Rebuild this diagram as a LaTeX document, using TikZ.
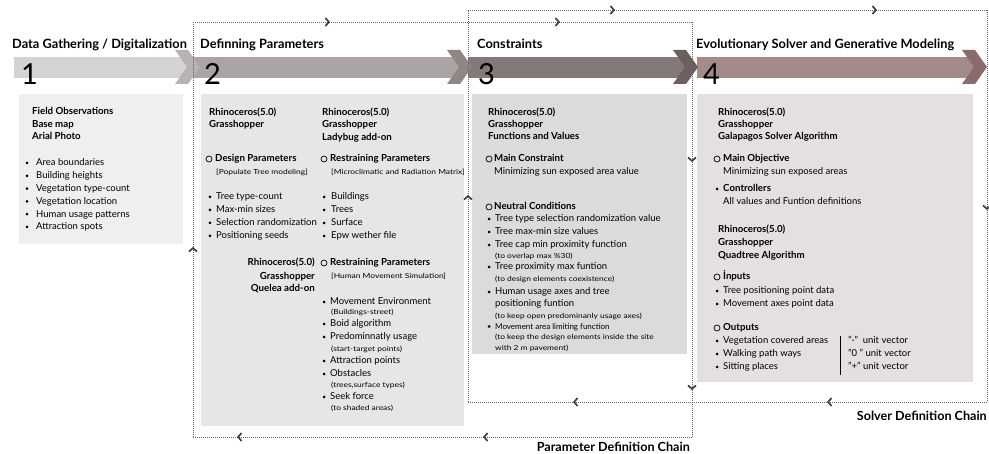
\documentclass[tikz,border=0pt]{standalone}
\usepackage{fontspec}
\setmainfont{Lato}
\newfontfamily\widefont{Lato}[FakeStretch=1.2]
\usetikzlibrary{arrows.meta,decorations.markings}

\definecolor{bandone}{HTML}{D4D2D2}
\definecolor{bandtwo}{HTML}{AAA4A4}
\definecolor{bandthree}{HTML}{857879}
\definecolor{bandfour}{HTML}{A58A8A}
\definecolor{chevone}{HTML}{B8B3B3}
\definecolor{chevtwo}{HTML}{908686}
\definecolor{chevthree}{HTML}{6D5F60}
\definecolor{chevfour}{HTML}{8B6A6B}
\definecolor{boxone}{HTML}{EFEFEF}
\definecolor{boxtwo}{HTML}{E6E6E6}
\definecolor{boxthree}{HTML}{DCDBDB}
\definecolor{boxfour}{HTML}{E5DFDF}

\newcommand\flowtip{\arrow{Straight Barb[length=3.4pt,width=8pt,line width=1.7pt,color=black!75]}}

\begin{document}
\begin{tikzpicture}[x=1pt,y=-1pt,
    txt/.style={anchor=base west,inner sep=0pt,font=\fontsize{9.5}{11}\selectfont},
    hd/.style={txt,font=\fontsize{9.7}{11}\selectfont\bfseries},
    sm/.style={txt,font=\widefont\fontsize{7}{8}\selectfont},
    ttl/.style={anchor=base west,inner sep=0pt,font=\fontsize{12.8}{14}\selectfont\bfseries},
    num/.style={anchor=base west,inner sep=0pt,font=\fontsize{29}{30}\selectfont},
    dot/.style={circle,fill=black,inner sep=0pt,minimum size=3pt},
    ring/.style={circle,draw=black,line width=0.7pt,inner sep=0pt,minimum size=6pt},
    panel/.style={anchor=north west,inner sep=0pt},
    chain/.style={black!60,line width=0.7pt,dash pattern=on 0.7pt off 1.3pt,
      postaction={decorate},decoration={markings,#1}}]
\useasboundingbox (0,0) rectangle (989,454);

\node[panel,fill=boxone,minimum width=164pt,minimum height=150pt] (gather) at (19,94) {};
\node[panel,fill=boxtwo,minimum width=263pt,minimum height=332pt] (params) at (201,94) {};
\node[panel,fill=boxthree,minimum width=215pt,minimum height=260pt] (constr) at (472,94) {};
\node[panel,fill=boxfour,minimum width=276pt,minimum height=288pt] (solver) at (697,94) {};

\fill[bandone] (14,57) rectangle (187,78);
\fill[bandtwo] (193,57) rectangle (459,78);
\fill[bandthree] (468,57) rectangle (685,78);
\fill[bandfour] (697,57) rectangle (974,78);
\foreach \cx/\cc in {175/chevone,447/chevtwo,673/chevthree,962/chevfour}
  \fill[\cc] (\cx,50) -- ++(13,0) -- ++(12,17) -- ++(-12,17) -- ++(-13,0) -- ++(12,-17) -- cycle;

\node[ttl] (t1) at (12,49) {Data Gathering / Digitalization};
\node[ttl] (t2) at (200,49) {Definning Parameters};
\node[ttl] (t3) at (477,49) {Constraints};
\node[ttl] (t4) at (696,49) {Evolutionary Solver and Generative Modeling};
\node[num] (n1) at (21,85) {1};
\node[num] (n2) at (204,85) {2};
\node[num] (n3) at (478,85) {3};
\node[num] (n4) at (703,85) {4};

% parameter definition chain
\coordinate (pa) at (193,22); \coordinate (pb) at (692,22);
\coordinate (pc) at (692,437); \coordinate (pd) at (193,437);
\draw[chain={mark=at position 137pt with {\flowtip},mark=at position 367pt with {\flowtip}}] (pa) -- (pb);
\draw[chain={mark=at position 140pt with {\flowtip},mark=at position 368pt with {\flowtip}}] (pb) -- (pc);
\draw[chain={mark=at position 209pt with {\flowtip},mark=at position 455pt with {\flowtip}}] (pc) -- (pd);
\draw[chain={mark=at position 190pt with {\flowtip}}] (pd) -- (pa);
% solver definition chain
\coordinate (sa) at (468,10); \coordinate (sb) at (987,10);
\coordinate (sc) at (987,402); \coordinate (sd) at (468,402);
\draw[chain={mark=at position 147pt with {\flowtip},mark=at position 409pt with {\flowtip}}] (sa) -- (sb);
\draw[chain={mark=at position 200pt with {\flowtip}}] (sb) -- (sc);
\draw[chain={mark=at position 160pt with {\flowtip},mark=at position 414pt with {\flowtip}}] (sc) -- (sd);
\draw[chain={mark=at position 207pt with {\flowtip}}] (sd) -- (sa);

\node[txt,anchor=base east,font=\fontsize{12.6}{14}\selectfont\bfseries] (pchain) at (690,452) {Parameter Definition Chain};
\node[txt,anchor=base east,font=\fontsize{12.6}{14}\selectfont\bfseries] (schain) at (987,421) {Solver Definition Chain};

% 1
\foreach \y/\t [count=\i] in {115/Field Observations,128/Base map,140/Arial Photo}
  \node[hd] (src-\i) at (32,\y) {\t};
\foreach \t [count=\i] in {Area boundaries,Building heights,Vegetation type-count,Vegetation location,Human usage patterns,Attraction spots}{
  \node[dot] (gd-\i) at (27,150.2+12.8*\i) {};
  \node[txt] (gt-\i) at (36,153.2+12.8*\i) {\t};}

% 2
\foreach \y/\t [count=\i] in {116/Rhinoceros(5.0),128/Grasshopper}
  \node[hd] (da-\i) at (209,\y) {\t};
\foreach \y/\t [count=\i] in {116/Rhinoceros(5.0),128/Grasshopper,141/Ladybug add-on}
  \node[hd] (db-\i) at (322,\y) {\t};
\node[ring] (dr-1) at (209,159) {};
\node[hd] (dp) at (215,162) {Design Parameters};
\node[sm] (dq) at (216,174.5) {[Populate Tree modeling]};
\node[ring] (dr-2) at (324,159) {};
\node[hd] (rp) at (330,162) {Restraining Parameters};
\node[sm] (rq) at (331,174.5) {[Microclimatic and Radiation Matrix]};
\foreach \y/\t/\u [count=\i] in {200/Tree type-count/Buildings,213/Max-min sizes/Trees,226/Selection randomization/Surface,239/Positioning seeds/Epw wether file}{
  \node[dot] (dl-\i) at (210,\y-3) {};
  \node[txt] (dlt-\i) at (216,\y) {\t};
  \node[dot] (dm-\i) at (324,\y-3) {};
  \node[txt] (dmt-\i) at (331,\y) {\u};}
\foreach \y/\t [count=\i] in {266/Rhinoceros(5.0),280/Grasshopper,292/Quelea add-on}
  \node[hd,anchor=base east] (qa-\i) at (315,\y) {\t};
\node[ring] (dr-3) at (324,263) {};
\node[hd] (hp) at (330,266) {Restraining Parameters};
\node[sm] (hq) at (331,278.5) {[Human Movement Simulation]};
\foreach \y/\t [count=\i] in {305/Movement Environment,327/Boid algorithm,340/Predominnatly usage,364/Attraction points,377/Obstacles,400/Seek force}{
  \node[dot] (hd-\i) at (324,\y-3) {};
  \node[txt] (ht-\i) at (330,\y) {\t};}
\foreach \y/\t [count=\i] in {314.5/(Buildings-street),351.5/(start-target points),387.5/{(trees,surface types)},410.5/(to shaded areas)}
  \node[sm] (hs-\i) at (331,\y) {\t};

% 3
\foreach \y/\t [count=\i] in {116/Rhinoceros(5.0),128/Grasshopper,140/Functions and Values}
  \node[hd] (ca-\i) at (488,\y) {\t};
\node[ring] (cr-1) at (489,159) {};
\node[hd] (mc) at (494,162) {Main Constraint};
\node[txt] (mv) at (494,175) {Minimizing sun exposed area value};
\node[ring] (cr-2) at (489,207) {};
\node[hd] (nc) at (494,210) {Neutral Conditions};
\foreach \y/\t [count=\i] in {222/Tree type selection randomization value,235/Tree max-min size values,248/Tree cap min proximity function,270/Tree proximity max funtion,295/Human usage axes and tree}{
  \node[dot] (cd-\i) at (489,\y-3) {};
  \node[txt] (ct-\i) at (495,\y) {\t};}
\node[txt] (ct-6) at (495,307) {positioning funtion};
\node[dot] (cd-6) at (489,326.5) {};
\node[txt,font=\fontsize{8}{9}\selectfont] (ct-7) at (495,329.5) {Movement area limiting function};
\foreach \y/\t [count=\i] in {258.5/(to overlap max \%30),281.5/(to design elements coexistence),318.5/(to keep open predominanly usage axes),340/(to keep the design elements inside the site,350.5/with 2 m pavement)}
  \node[sm] (cs-\i) at (495,\y) {\t};

% 4
\foreach \y/\t [count=\i] in {116/Rhinoceros(5.0),128/Grasshopper,140/Galapagos Solver Algorithm,233/Rhinoceros(5.0),246/Grasshopper,259/Quadtree Algorithm}
  \node[hd] (ea-\i) at (718,\y) {\t};
\node[ring] (er-1) at (717,159) {};
\node[hd] (mo) at (723,162) {Main Objective};
\node[txt] (mov) at (723,175) {Minimizing sun exposed areas};
\node[dot] (ed-0) at (717,189) {};
\node[hd] (ctl) at (723,192) {Controllers};
\node[txt] (ctlv) at (723,205) {All values and Funtion definitions};
\node[ring] (er-2) at (717,277) {};
\node[hd] (inp) at (723,280) {İnputs};
\node[ring] (er-3) at (717,328) {};
\node[hd] (outp) at (723,331) {Outputs};
\foreach \y/\t [count=\i] in {294/Tree positioning point data,307/Movement axes point data,344/Vegetation covered areas,357/Walking path ways,370/Sitting places}{
  \node[dot] (ed-\i) at (717,\y-3) {};
  \node[txt] (et-\i) at (723,\y) {\t};}
\draw[line width=0.6pt] (840,336) -- (840,375);
\node[txt] (uv-1) at (848,344) {”-”\ \ unit vector};
\node[txt] (uv-2) at (848,357) {”0 ” unit vector};
\node[txt] (uv-3) at (848,370) {”+” unit vector};
\end{tikzpicture}
\end{document}
